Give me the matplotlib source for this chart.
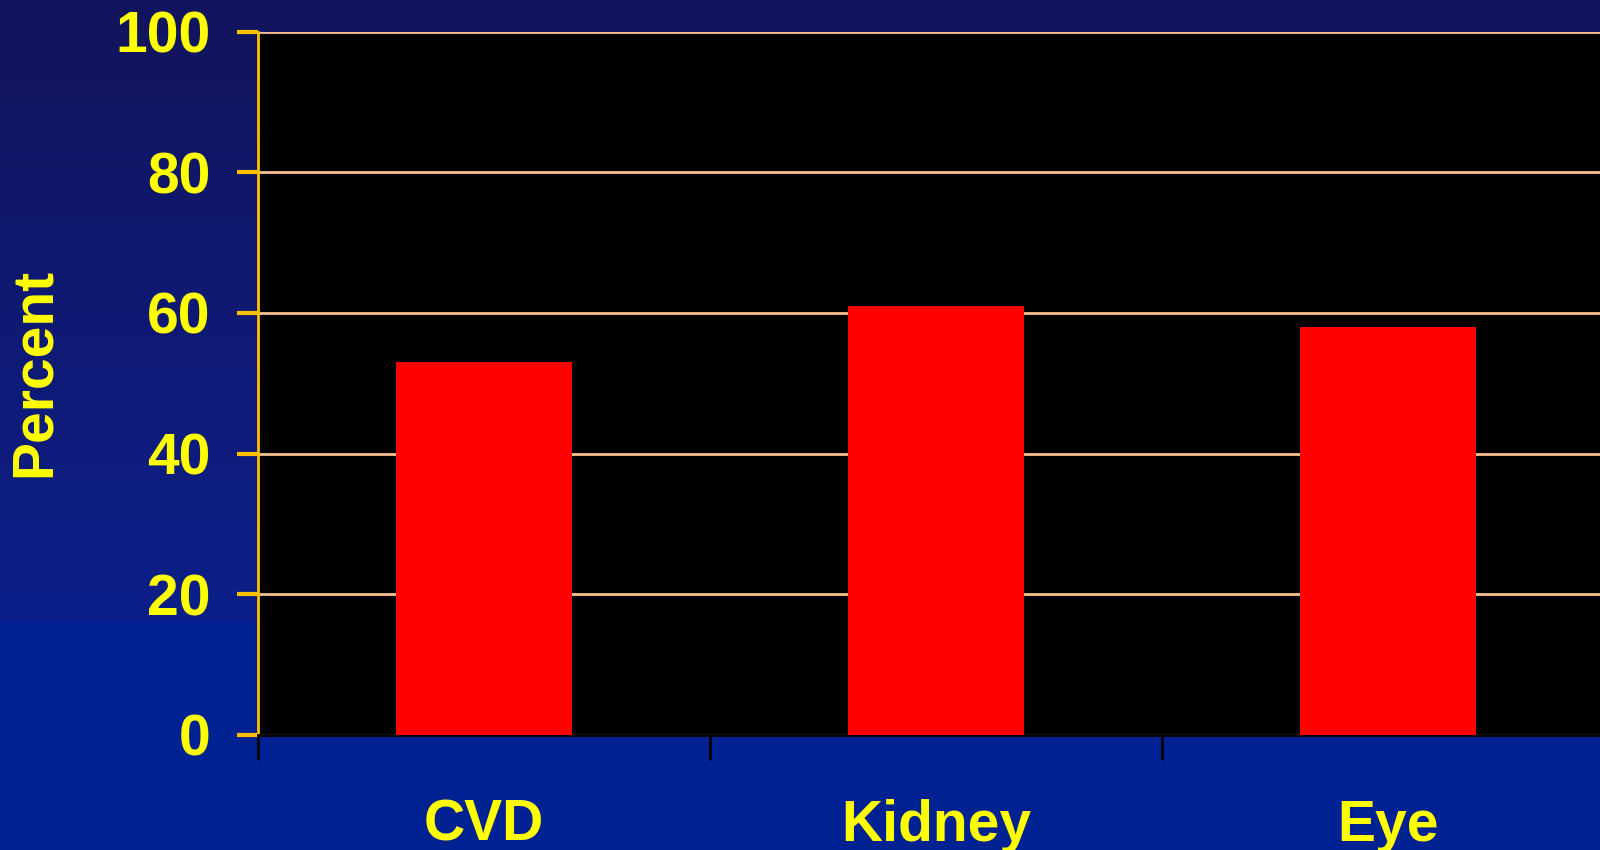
import numpy as np
import matplotlib.pyplot as plt

categories = ['CVD', 'Kidney', 'Eye']
percent = [53, 61, 58]
yticks = [0, 20, 40, 60, 80, 100]

plt.rcParams['font.family'] = ['Liberation Sans', 'DejaVu Sans']

fig = plt.figure(figsize=(16, 8.5), dpi=100)

# background: dark navy gradient on top, flat blue band at the bottom
bg = fig.add_axes([0, 0, 1, 1], zorder=-10)
h = 850
top = np.array([0.07, 0.08, 0.36])
mid = np.array([0.05, 0.12, 0.54])
low = np.array([0.0, 0.13, 0.57])
rows = []
for i in range(h):
    if i < 622:
        t = i / 622
        rows.append(top * (1 - t) + mid * t)
    else:
        rows.append(low)
img = np.array(rows)[:, None, :].repeat(2, axis=1)
bg.imshow(img, aspect='auto', extent=[0, 1, 0, 1])
bg.axis('off')

ax = fig.add_axes([258 / 1600, 115 / 850, (1614 - 258) / 1600, (735 - 31.6) / 850])
ax.set_facecolor('black')

x = np.arange(len(categories))
ax.bar(x, percent, width=0.39, color='#ff0000', zorder=3)

ax.set_xlim(-0.5, 2.5)
ax.set_ylim(0, 100)
ax.set_yticks(yticks)
ax.set_yticklabels([str(v) for v in yticks], color='#ffff00', fontsize=41,
                   fontweight='bold')
ax.tick_params(axis='y', colors='#ffc000', length=15, width=3, pad=19,
               labelcolor='#ffff00')
ax.grid(axis='y', color='#f8c090', linewidth=2, zorder=1)
ax.set_axisbelow(True)

# category boundaries as ticks, labels centred in between
ax.set_xticks([-0.5, 0.5, 1.5])
ax.set_xticklabels([])
ax.tick_params(axis='x', which='major', colors='black', length=18, width=2)
ax.set_xticks(x, minor=True)
ax.set_xticklabels(categories, minor=True, color='#ffff00', fontsize=41,
                   fontweight='bold')
ax.tick_params(axis='x', which='minor', length=0, pad=46)

for s in ['top', 'right']:
    ax.spines[s].set_visible(False)
ax.spines['left'].set_color('#ffc000')
ax.spines['left'].set_linewidth(2)
ax.spines['bottom'].set_color('black')
ax.spines['bottom'].set_linewidth(2)

ax.set_ylabel('Percent', color='#ffff00', fontsize=41, fontweight='bold')
ax.yaxis.set_label_coords(-0.145, 0.515)

fig.savefig('out.png', dpi=100)
